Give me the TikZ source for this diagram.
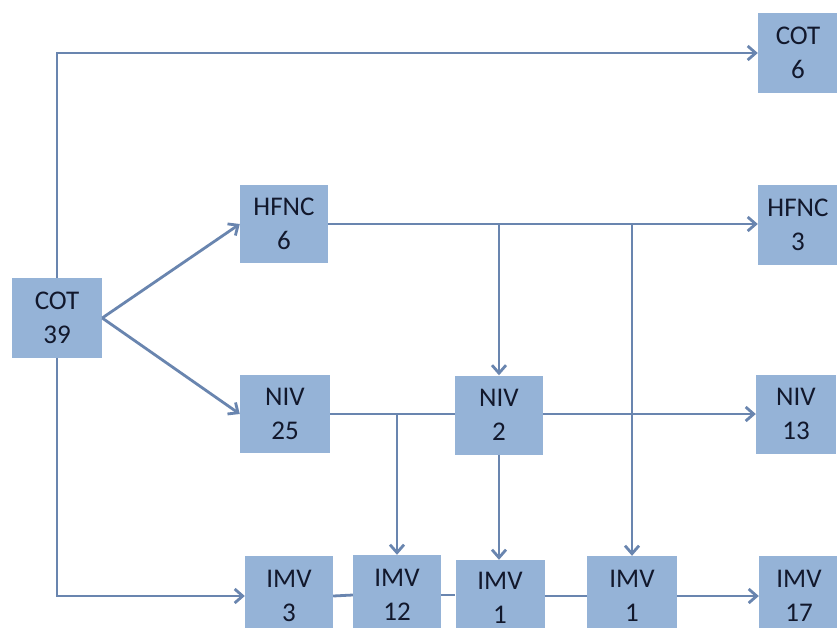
\documentclass[tikz,border=0pt]{standalone}
\usepackage{fontspec}
\setmainfont{Carlito}
\usetikzlibrary{arrows.meta}
\definecolor{boxfill}{RGB}{149,179,215}
\definecolor{linec}{RGB}{105,133,175}
\definecolor{txt}{RGB}{18,24,44}
\begin{document}
\begin{tikzpicture}[x=1pt,y=-1pt,
  box/.style={fill=boxfill, draw=none, minimum width=88pt, minimum height=80pt,
    align=center, font=\fontsize{27}{34}\selectfont, text=txt, inner sep=0pt},
  conn/.style={draw=linec, line width=2.8pt},
  arr/.style={conn, -{Straight Barb[length=8pt,width=14pt]}}]
\useasboundingbox (0,0) rectangle (837,627);
\clip (0,0) rectangle (837,627);
\fill[white] (0,0) rectangle (837,627);
% nodes
\node[box, minimum width=90pt] (cot39) at (57,318) {COT\\39};
\node[box, minimum width=80pt] (cot6) at (798,53) {COT\\6};
\node[box, minimum height=78pt] (hfnc6) at (284,224) {HFNC\\6};
\node[box, minimum width=80pt] (hfnc3) at (798,225) {HFNC\\3};
\node[box, minimum width=90pt, minimum height=78pt] (niv25) at (285,414) {NIV\\25};
\node[box, minimum height=79pt] (niv2) at (499,415) {NIV\\2};
\node[box, minimum width=80pt, minimum height=79pt] (niv13) at (796,414) {NIV\\13};
\node[box] (imv3) at (289,596) {IMV\\3};
\node[box] (imv12) at (397,595) {IMV\\12};
\node[box, minimum width=89pt, minimum height=76pt] (imv1a) at (500,598) {IMV\\1};
\node[box, minimum width=90pt] (imv1b) at (632,596) {IMV\\1};
\node[box, minimum width=80pt] (imv17) at (799,596) {IMV\\17};
% connectors
\draw[arr] (cot39.north) |- (cot6.west);
\draw[arr] (cot39.south) |- (imv3.west);
\draw[arr] (cot39.east) -- (hfnc6.west);
\draw[arr] (cot39.east) -- (niv25.west);
\draw[arr] (hfnc6.east) -- (hfnc6.east -| hfnc3.west);
\draw[arr] (niv2.north |- hfnc6.east) -- (niv2.north);
\draw[arr] (imv1b.north |- hfnc6.east) -- (imv1b.north);
\draw[conn] (niv25.east) -- (niv25.east -| niv2.west);
\draw[arr] (niv2.east |- niv25.east) -- (niv25.east -| niv13.west);
\draw[arr] (imv12.north |- niv25.east) -- (imv12.north);
\draw[arr] (niv2.south) -- (niv2.south |- imv1a.north);
\draw[conn] (imv3.east) -- (imv12.west);
\draw[conn] (imv12.east) -- (imv12.east -| imv1a.west);
\draw[conn] (imv1a.east |- imv3.east) -- (imv1b.west);
\draw[arr] (imv1b.east) -- (imv17.west);
\end{tikzpicture}
\end{document}
